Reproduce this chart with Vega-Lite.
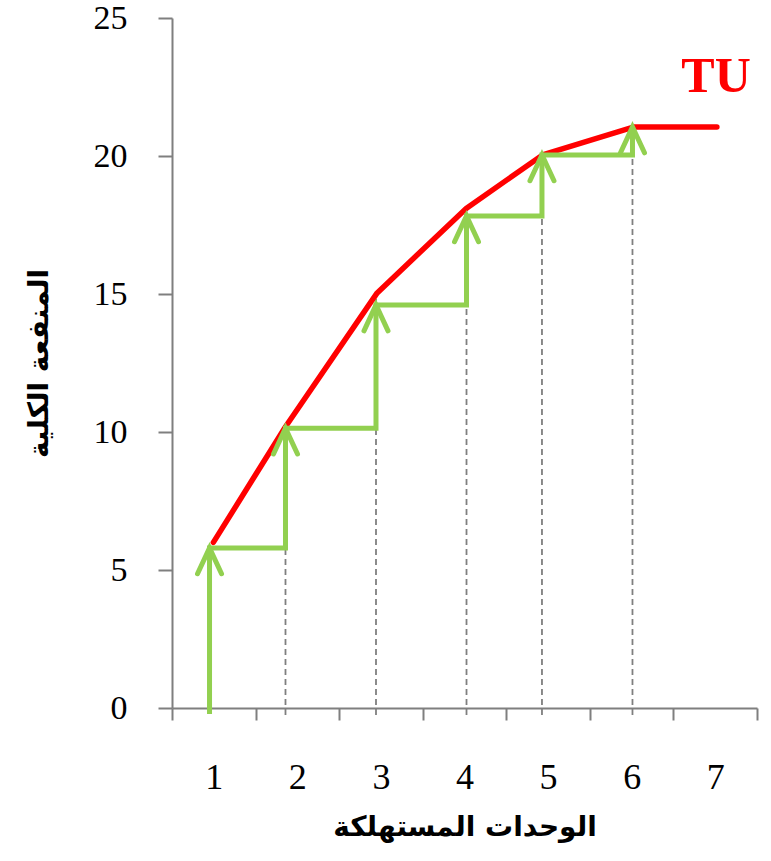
{
  "$schema": "https://vega.github.io/schema/vega-lite/v6.json",
  "width": 585,
  "height": 690,
  "autosize": {"type": "none"},
  "padding": {"left": 172, "top": 18, "right": 14, "bottom": 153},
  "background": "white",
  "config": {"view": {"stroke": null}, "axis": {"grid": false}},
  "datasets": {
    "tu": [
      {"x": 0.995, "y": 6.0},
      {"x": 1.86, "y": 10.2},
      {"x": 2.955, "y": 15.04},
      {"x": 4.02, "y": 18.1},
      {"x": 4.935, "y": 20.04},
      {"x": 6.02, "y": 21.05},
      {"x": 7.02, "y": 21.05}
    ],
    "steps": [
      {"i": 0, "x": 0.949, "y": -0.22},
      {"i": 1, "x": 0.949, "y": 5.8},
      {"i": 2, "x": 1.858, "y": 5.8},
      {"i": 3, "x": 1.858, "y": 10.14},
      {"i": 4, "x": 2.941, "y": 10.14},
      {"i": 5, "x": 2.941, "y": 14.6},
      {"i": 6, "x": 4.024, "y": 14.6},
      {"i": 7, "x": 4.024, "y": 17.83},
      {"i": 8, "x": 4.927, "y": 17.83},
      {"i": 9, "x": 4.927, "y": 20.04},
      {"i": 10, "x": 6.01, "y": 20.04},
      {"i": 11, "x": 6.01, "y": 21.05}
    ],
    "tips": [
      {"x": 0.949, "y": 5.8},
      {"x": 1.858, "y": 10.14},
      {"x": 2.941, "y": 14.6},
      {"x": 4.024, "y": 17.83},
      {"x": 4.927, "y": 20.04},
      {"x": 6.01, "y": 21.05}
    ],
    "drops": [
      {"x": 1.858, "y0": -0.25, "y1": 10.2},
      {"x": 2.941, "y0": -0.25, "y1": 15.0},
      {"x": 4.024, "y0": -0.25, "y1": 18.0},
      {"x": 4.927, "y0": -0.25, "y1": 20.0},
      {"x": 6.01, "y0": -0.25, "y1": 21.0}
    ],
    "labels": [
      {"x": 7.01, "y": 22.86, "t": "TU"}
    ]
  },
  "layer": [
    {
      "data": {"name": "drops"},
      "mark": {"type": "rule", "color": "#7f7f7f", "strokeWidth": 1.8, "strokeDash": [6, 4]},
      "encoding": {
        "x": {
          "field": "x",
          "type": "quantitative",
          "scale": {"domain": [0.5, 7.5], "nice": false, "zero": false},
          "axis": {
            "values": [0.5, 1, 1.5, 2, 2.5, 3, 3.5, 4, 4.5, 5, 5.5, 6, 6.5, 7, 7.5],
            "format": ".0f",
            "labelExpr": "datum.value % 1 === 0 ? datum.label : ''",
            "labelOverlap": false,
            "labelFlush": false,
            "labelFont": "Liberation Serif",
            "labelFontSize": 36,
            "labelColor": "#000000",
            "labelPadding": 40,
            "tickSize": 12,
            "tickWidth": 2,
            "tickColor": "#7f7f7f",
            "tickOpacity": {"condition": {"test": "datum.value % 1 === 0", "value": 0}, "value": 1},
            "domainColor": "#7f7f7f",
            "domainWidth": 2,
            "title": "الوحدات المستهلكة",
            "titleFont": "DejaVu Sans",
            "titleFontSize": 28,
            "titleFontWeight": "bold",
            "titleColor": "#000000",
            "titlePadding": 18
          }
        },
        "y": {
          "field": "y0",
          "type": "quantitative",
          "scale": {"domain": [0, 25], "nice": false, "zero": false},
          "axis": {
            "values": [0, 5, 10, 15, 20, 25],
            "format": "d",
            "labelFont": "Liberation Serif",
            "labelFontSize": 34,
            "labelColor": "#000000",
            "labelPadding": 31,
            "tickSize": 14,
            "tickWidth": 2,
            "tickColor": "#7f7f7f",
            "domainColor": "#7f7f7f",
            "domainWidth": 2,
            "title": "المنفعة الكلية",
            "titleFont": "DejaVu Sans",
            "titleFontSize": 28,
            "titleFontWeight": "bold",
            "titleColor": "#000000",
            "titlePadding": 40
          }
        },
        "y2": {"field": "y1"}
      }
    },
    {
      "data": {"name": "tu"},
      "mark": {"type": "line", "color": "#ff0000", "strokeWidth": 5.5, "strokeCap": "round", "strokeJoin": "round"},
      "encoding": {
        "x": {"field": "x", "type": "quantitative"},
        "y": {"field": "y", "type": "quantitative"}
      }
    },
    {
      "data": {"name": "steps"},
      "mark": {"type": "line", "color": "#92d050", "strokeWidth": 5, "strokeCap": "butt", "strokeJoin": "miter"},
      "encoding": {
        "x": {"field": "x", "type": "quantitative"},
        "y": {"field": "y", "type": "quantitative"},
        "order": {"field": "i", "type": "quantitative"}
      }
    },
    {
      "data": {"name": "tips"},
      "mark": {
        "type": "point",
        "shape": "M -1 2.15 L 0 0 L 1 2.15",
        "filled": false,
        "fill": null,
        "stroke": "#92d050",
        "strokeWidth": 5,
        "strokeCap": "round",
        "strokeJoin": "miter",
        "opacity": 1,
        "size": 576
      },
      "encoding": {
        "x": {"field": "x", "type": "quantitative"},
        "y": {"field": "y", "type": "quantitative"}
      }
    },
    {
      "data": {"name": "labels"},
      "mark": {"type": "text", "color": "#ff0000", "font": "Liberation Serif", "fontWeight": "bold", "fontSize": 50, "align": "center", "baseline": "middle"},
      "encoding": {
        "x": {"field": "x", "type": "quantitative"},
        "y": {"field": "y", "type": "quantitative"},
        "text": {"field": "t", "type": "nominal"}
      }
    }
  ]
}
